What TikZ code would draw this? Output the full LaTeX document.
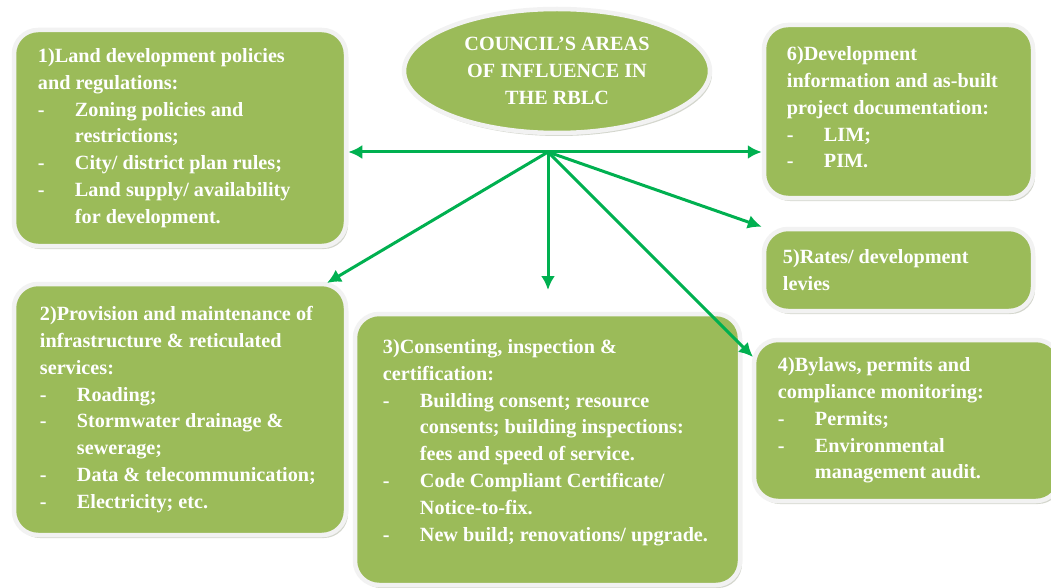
\documentclass[tikz,border=0pt]{standalone}
\usepackage{fontspec}
\setmainfont{Liberation Serif}
\usetikzlibrary{arrows.meta,positioning}
\usetikzlibrary{shapes.geometric,shadows}
\definecolor{leafgreen}{HTML}{9BBB59}
\definecolor{arrowgreen}{HTML}{00B050}
\definecolor{rimwhite}{HTML}{F2F2F2}
\definecolor{shadowgrey}{HTML}{A9AE9C}
\newcommand{\Bul}[1]{\makebox[37pt][l]{-}#1}
\newcommand{\Ind}[1]{\hspace*{37pt}#1}

\begin{document}
\begin{tikzpicture}[x=1pt,y=-1pt,
  card/.style={rectangle,rounded corners=24pt,fill=leafgreen,draw=rimwhite,line width=4.5pt,
    drop shadow={shadow xshift=2pt,shadow yshift=-3pt,fill=shadowgrey}},
  cardtext/.style={inner sep=0pt,align=left,text=white,font=\fontsize{20.2}{26.8}\selectfont\bfseries},
  link/.style={draw=arrowgreen,line width=3pt,-{Latex[length=14pt,width=14pt]}},
  both/.style={link,{Latex[length=14pt,width=14pt]}-{Latex[length=14pt,width=14pt]}}]
\path[use as bounding box,clip] (0,0) rectangle (1051,588);
% \draw[help lines] (0,0) grid (1051,588);
\node (council) [ellipse,fill=leafgreen,draw=rimwhite,line width=4.5pt,minimum width=306pt,minimum height=124pt,
  drop shadow={shadow xshift=2pt,shadow yshift=-3pt,fill=shadowgrey},
  align=center,text=white,font=\fontsize{20.2}{26.8}\selectfont\bfseries] at (557,71)
  {COUNCIL’S AREAS\\OF INFLUENCE IN\\THE RBLC};
%
\node (b1) [card,minimum width=332pt,minimum height=216pt] at (180,138) {};
\node (b2) [card,minimum width=332pt,minimum height=251pt] at (180,409.5) {};
\node (b3) [card,minimum width=385pt,minimum height=271pt] at (547.5,449.5) {};
\node (b4) [card,minimum width=306pt,minimum height=161pt] at (907,420.5) {};
\node (b5) [card,minimum width=269pt,minimum height=82pt] at (898.5,270) {};
\node (b6) [card,minimum width=269pt,minimum height=173pt] at (898.5,111.5) {};
%
\node (t1) [cardtext,right=26pt of b1.west] {1)Land development policies\\and regulations:\\
  \Bul{Zoning policies and}\\\Ind{restrictions;}\\\Bul{City/ district plan rules;}\\
  \Bul{Land supply/ availability}\\\Ind{for development.}};
\node (t2) [cardtext,right=28pt of b2.west] {2)Provision and maintenance of\\infrastructure \& reticulated\\services:\\
  \Bul{Roading;}\\\Bul{Stormwater drainage \&}\\\Ind{sewerage;}\\
  \Bul{Data \& telecommunication;}\\\Bul{Electricity; etc.}};
\node (t3) [cardtext,right=30pt of b3.west,yshift=7pt] {3)Consenting, inspection \&\\certification:\\
  \Bul{Building consent; resource}\\\Ind{consents; building inspections:}\\\Ind{fees and speed of service.}\\
  \Bul{Code Compliant Certificate/}\\\Ind{Notice-to-fix.}\\\Bul{New build; renovations/ upgrade.}};
\node (t4) [cardtext,right=26pt of b4.west] {4)Bylaws, permits and\\compliance monitoring:\\
  \Bul{Permits;}\\\Bul{Environmental}\\\Ind{management audit.}};
\node (t5) [cardtext,right=21pt of b5.west] {5)Rates/ development\\levies};
\node (t6) [cardtext,right=25pt of b6.west,yshift=4pt] {6)Development\\information and as-built\\project documentation:\\
  \Bul{LIM;}\\\Bul{PIM.}};
%
\coordinate (hub) at (548,152);
\coordinate (e2) at (327,283);
\coordinate (e3) at (548,290);
\coordinate (e4) at (753,357);
\path (hub -| b1.east) edge[both] (hub -| b6.west);
\path (hub) edge[link] (e2);
\path (hub) edge[link] (e3);
\path (hub) edge[link] (e4);
\path (hub) edge[link] (b5.north west);
\end{tikzpicture}
\end{document}
